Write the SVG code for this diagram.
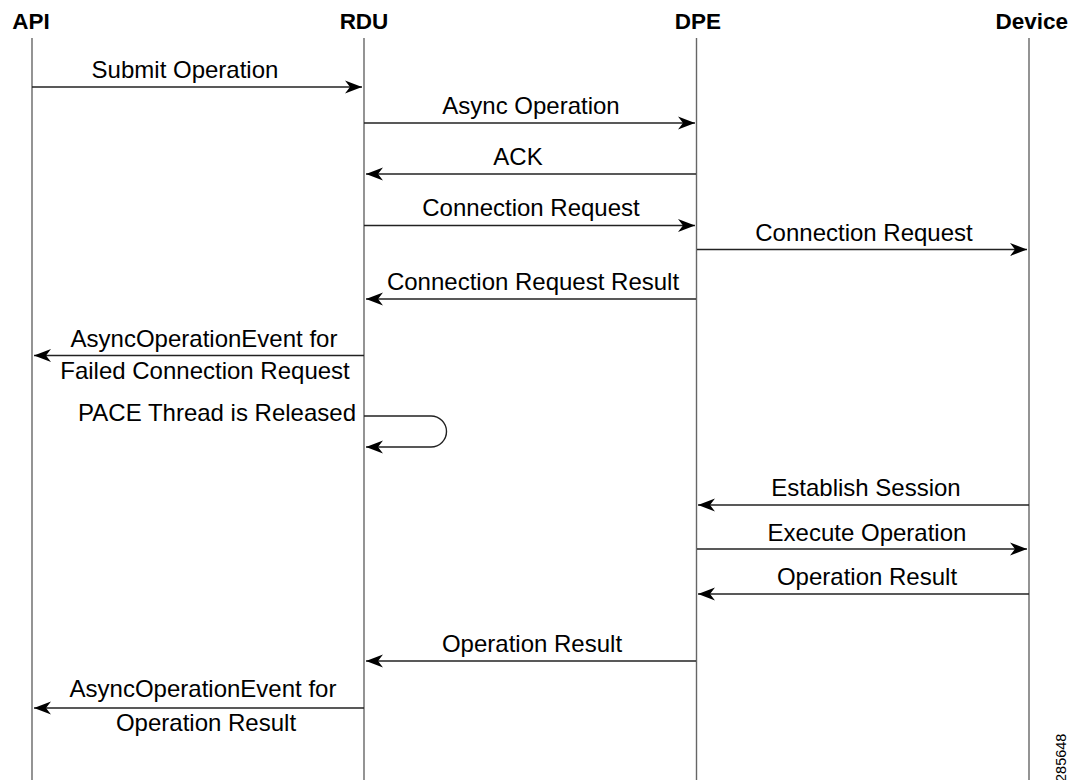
<svg xmlns="http://www.w3.org/2000/svg" width="1079" height="780" viewBox="0 0 1079 780">
<style>
.hdr{font-family:"Liberation Sans",Arial,sans-serif;font-weight:bold;font-size:22.5px;fill:#000}
.lbl{font-family:"Liberation Sans",Arial,sans-serif;font-size:24px;fill:#000;text-anchor:middle}
.life{stroke:#666;stroke-width:1.4;fill:none}
.msg{stroke:#222;stroke-width:1.4;fill:none;marker-end:url(#ah)}
.num{font-family:"Liberation Sans",Arial,sans-serif;font-size:14.5px;fill:#000}
</style>
<defs>
<marker id="ah" markerUnits="userSpaceOnUse" viewBox="-18 -8 19 16" refX="0" refY="0" markerWidth="19" markerHeight="16" orient="auto">
<path d="M0,0 L-17,-6.5 L-12,0 L-17,6.5 Z" fill="#000"/>
</marker>
</defs>
<rect width="1079" height="780" fill="#fff"/>
<g id="api"><text class="hdr" x="31" y="29" text-anchor="middle">API</text><line class="life" x1="32" y1="38" x2="32" y2="780"/></g>
<g id="rdu"><text class="hdr" x="364" y="29" text-anchor="middle">RDU</text><line class="life" x1="364" y1="38" x2="364" y2="780"/></g>
<g id="dpe"><text class="hdr" x="698" y="29" text-anchor="middle">DPE</text><line class="life" x1="696.5" y1="38" x2="696.5" y2="780"/></g>
<g id="device"><text class="hdr" x="1068" y="29" text-anchor="end">Device</text><line class="life" x1="1029" y1="38" x2="1029" y2="780"/></g>
<g id="connectors">
<line class="msg" x1="32" y1="87" x2="362" y2="87"/>
<text class="lbl" x="185" y="78">Submit Operation</text>
<line class="msg" x1="364" y1="123" x2="695" y2="123"/>
<text class="lbl" x="531" y="114">Async Operation</text>
<line class="msg" x1="696" y1="174" x2="366" y2="174"/>
<text class="lbl" x="518" y="165">ACK</text>
<line class="msg" x1="364" y1="225.5" x2="695" y2="225.5"/>
<text class="lbl" x="531" y="216">Connection Request</text>
<line class="msg" x1="697" y1="249.5" x2="1027" y2="249.5"/>
<text class="lbl" x="864" y="241">Connection Request</text>
<line class="msg" x1="696" y1="299" x2="366" y2="299"/>
<text class="lbl" x="533" y="290">Connection Request Result</text>
<line class="msg" x1="364" y1="355.5" x2="34" y2="355.5"/>
<text class="lbl" x="204" y="347">AsyncOperationEvent for</text>
<text class="lbl" x="205" y="379">Failed Connection Request</text>
<path class="msg" d="M364,416 H431 A15.5,15.5 0 0 1 431,447 H366"/>
<text class="lbl" x="356" y="421" style="text-anchor:end">PACE Thread is Released</text>
<line class="msg" x1="1029" y1="505" x2="698" y2="505"/>
<text class="lbl" x="866" y="496">Establish Session</text>
<line class="msg" x1="697" y1="549" x2="1027" y2="549"/>
<text class="lbl" x="867" y="541">Execute Operation</text>
<line class="msg" x1="1029" y1="594" x2="698" y2="594"/>
<text class="lbl" x="867" y="585">Operation Result</text>
<line class="msg" x1="696" y1="661" x2="366" y2="661"/>
<text class="lbl" x="532" y="652">Operation Result</text>
<line class="msg" x1="364" y1="708" x2="34" y2="708"/>
<text class="lbl" x="203" y="697">AsyncOperationEvent for</text>
<text class="lbl" x="206" y="731">Operation Result</text>
</g>
<text class="num" transform="translate(1066,782) rotate(-90)">285648</text>
</svg>
